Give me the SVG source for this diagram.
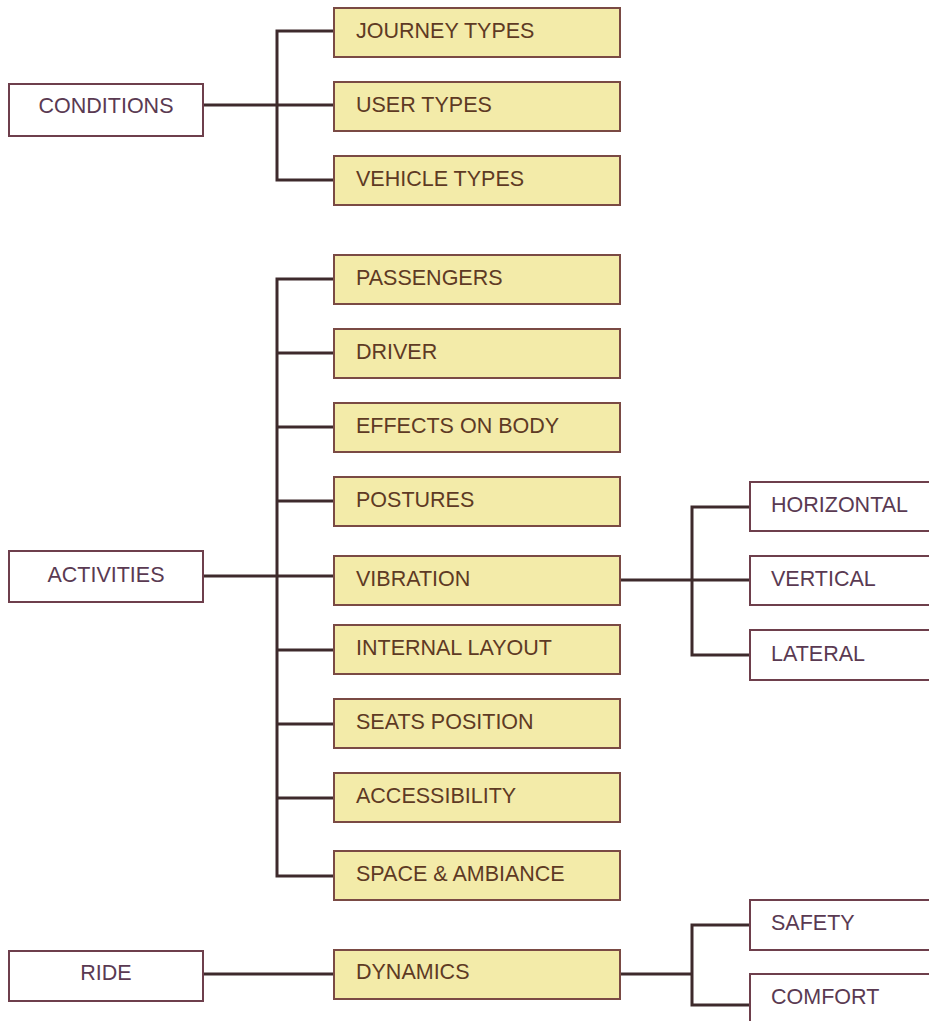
<svg xmlns="http://www.w3.org/2000/svg" width="929" height="1021" viewBox="0 0 929 1021">
<style>
.y{fill:#f3eba9;stroke:#7a4a44;stroke-width:2}
.w{fill:#ffffff;stroke:#6e3f4c;stroke-width:2}
.ty{font-family:"Liberation Sans",Arial,sans-serif;font-size:21.5px;fill:#5e3a24;dominant-baseline:central}
.tw{font-family:"Liberation Sans",Arial,sans-serif;font-size:21.5px;fill:#5a3a52;dominant-baseline:central}
.c{fill:none;stroke:#3e2a2c;stroke-width:3}
</style>
<rect width="929" height="1021" fill="#ffffff"/>
<g id="connectors" class="c">
<path d="M203,105 H334 M334,31 H277 V180 H334"/>
<path d="M203,576 H334 M334,279 H277 V876 H334 M277,353 H334 M277,427 H334 M277,501 H334 M277,650 H334 M277,724 H334 M277,798 H334"/>
<path d="M620,580 H750 M750,507 H692 V655 H750"/>
<path d="M203,974 H334 M620,974 H692 M750,925 H692 V1005 H750"/>
</g>
<g id="conditions"><rect class="w" x="9" y="84" width="194" height="52"/><text class="tw" x="106" y="106" text-anchor="middle">CONDITIONS</text></g>
<g id="journey-types"><rect class="y" x="334" y="8" width="286" height="49"/><text class="ty" x="356" y="31">JOURNEY TYPES</text></g>
<g id="user-types"><rect class="y" x="334" y="82" width="286" height="49"/><text class="ty" x="356" y="105">USER TYPES</text></g>
<g id="vehicle-types"><rect class="y" x="334" y="156" width="286" height="49"/><text class="ty" x="356" y="179">VEHICLE TYPES</text></g>
<g id="activities"><rect class="w" x="9" y="551" width="194" height="51"/><text class="tw" x="106" y="575" text-anchor="middle">ACTIVITIES</text></g>
<g id="passengers"><rect class="y" x="334" y="255" width="286" height="49"/><text class="ty" x="356" y="278">PASSENGERS</text></g>
<g id="driver"><rect class="y" x="334" y="329" width="286" height="49"/><text class="ty" x="356" y="352">DRIVER</text></g>
<g id="effects-on-body"><rect class="y" x="334" y="403" width="286" height="49"/><text class="ty" x="356" y="426">EFFECTS ON BODY</text></g>
<g id="postures"><rect class="y" x="334" y="477" width="286" height="49"/><text class="ty" x="356" y="500">POSTURES</text></g>
<g id="vibration"><rect class="y" x="334" y="556" width="286" height="49"/><text class="ty" x="356" y="579">VIBRATION</text></g>
<g id="internal-layout"><rect class="y" x="334" y="625" width="286" height="49"/><text class="ty" x="356" y="648">INTERNAL LAYOUT</text></g>
<g id="seats-position"><rect class="y" x="334" y="699" width="286" height="49"/><text class="ty" x="356" y="722">SEATS POSITION</text></g>
<g id="accessibility"><rect class="y" x="334" y="773" width="286" height="49"/><text class="ty" x="356" y="796">ACCESSIBILITY</text></g>
<g id="space-ambiance"><rect class="y" x="334" y="851" width="286" height="49"/><text class="ty" x="356" y="874">SPACE &amp; AMBIANCE</text></g>
<g id="horizontal"><rect class="w" x="750" y="482" width="185" height="49"/><text class="tw" x="771" y="505">HORIZONTAL</text></g>
<g id="vertical"><rect class="w" x="750" y="556" width="185" height="49"/><text class="tw" x="771" y="579">VERTICAL</text></g>
<g id="lateral"><rect class="w" x="750" y="630" width="185" height="50"/><text class="tw" x="771" y="654">LATERAL</text></g>
<g id="ride"><rect class="w" x="9" y="951" width="194" height="50"/><text class="tw" x="106" y="973" text-anchor="middle">RIDE</text></g>
<g id="dynamics"><rect class="y" x="334" y="950" width="286" height="49"/><text class="ty" x="356" y="972">DYNAMICS</text></g>
<g id="safety"><rect class="w" x="750" y="900" width="185" height="50"/><text class="tw" x="771" y="923">SAFETY</text></g>
<g id="comfort"><rect class="w" x="750" y="974" width="185" height="60"/><text class="tw" x="771" y="997">COMFORT</text></g>
</svg>
